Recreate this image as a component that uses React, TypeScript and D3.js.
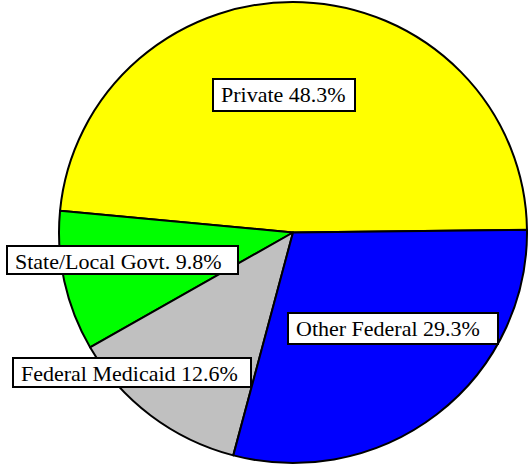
import React from "react";
import * as d3 from "d3";

const categories = ["Private", "State/Local Govt.", "Federal Medicaid", "Other Federal"];
const shares = [48.3, 9.8, 12.6, 29.3];
const colors = ["#FFFF00", "#00FF00", "#C0C0C0", "#0000FF"];

// label box layout (x, y, width, height) in pixels
const labelBoxes = [
  { x: 213, y: 79, w: 142, h: 32 },
  { x: 7, y: 246, w: 231, h: 28 },
  { x: 13, y: 358, w: 238, h: 29 },
  { x: 288, y: 313, w: 210, h: 31 },
];
const labelBaselineOffset = [23, 23, 23, 23];

const W = 528;
const H = 466;
const cx = 293;
const cy = 232.5;
const rx = 234;
const ry = 230.5;

export default function App() {
  const start = Math.PI / 2 - (0.7 * Math.PI) / 180;
  const pie = d3
    .pie<number>()
    .sort(null)
    .value((d) => d)
    .startAngle(start)
    .endAngle(start - 2 * Math.PI);
  const arcs = pie(shares);
  const arc = d3.arc<d3.PieArcDatum<number>>().innerRadius(0).outerRadius(rx);

  return (
    <svg
      width={W}
      height={H}
      style={{ position: "absolute", left: 0, top: 0, background: "#fff" }}
    >
      <g transform={`translate(${cx},${cy}) scale(1,${ry / rx})`}>
        {arcs.map((a, i) => (
          <path
            key={i}
            d={arc(a) || ""}
            fill={colors[i]}
            stroke="#000"
            strokeWidth={2}
            strokeLinejoin="round"
            vectorEffect="non-scaling-stroke"
          />
        ))}
      </g>
      {categories.map((c, i) => {
        const b = labelBoxes[i];
        return (
          <g key={c}>
            <rect
              x={b.x}
              y={b.y}
              width={b.w}
              height={b.h}
              fill="#fff"
              stroke="#000"
              strokeWidth={2}
            />
            <text
              x={b.x + 8}
              y={b.y + labelBaselineOffset[i]}
              fontSize={22}
              fill="#000"
              style={{ fontFamily: '"Liberation Serif", "Times New Roman", serif' }}
            >
              {`${c} ${shares[i].toFixed(1)}%`}
            </text>
          </g>
        );
      })}
    </svg>
  );
}
